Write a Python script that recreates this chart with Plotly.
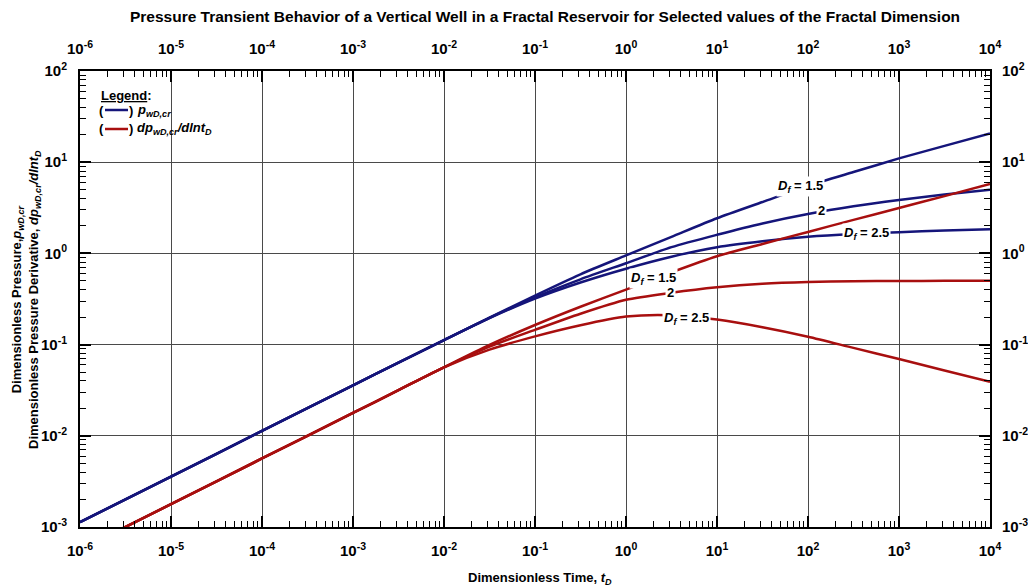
import math
import plotly.graph_objects as go

# Dimensionless time grid
t_D = [1e-6, 1e-5, 1e-4, 1e-3, 3.16e-3, 1e-2, 0.0316, 0.1, 0.316, 1, 3.16,
       10, 31.6, 100, 316, 1000, 3162, 10000]

# Dimensionless pressure p_wD,cr for each fractal dimension
p_Df15 = [1.13e-3, 3.57e-3, 1.13e-2, 3.57e-2, 0.0635, 0.112, 0.197, 0.345, 0.59, 0.95, 1.52,
          2.43, 3.66, 5.5, 7.8, 11.0, 15.1, 20.7]
p_Df20 = [1.13e-3, 3.57e-3, 1.13e-2, 3.57e-2, 0.0635, 0.112, 0.196, 0.33, 0.52, 0.78, 1.17,
          1.6, 2.13, 2.7, 3.28, 3.85, 4.43, 5.0]
p_Df25 = [1.13e-3, 3.57e-3, 1.13e-2, 3.57e-2, 0.0635, 0.112, 0.195, 0.32, 0.48, 0.68, 0.92,
          1.17, 1.36, 1.52, 1.63, 1.71, 1.78, 1.84]

# Pressure derivative dp_wD,cr/dln t_D for each fractal dimension
dp_Df15 = [5.64e-4, 1.78e-3, 5.64e-3, 1.78e-2, 0.0317, 0.0564, 0.099, 0.164, 0.26, 0.40, 0.62,
           0.93, 1.27, 1.72, 2.33, 3.15, 4.25, 5.77]
dp_Df20 = [5.64e-4, 1.78e-3, 5.64e-3, 1.78e-2, 0.0317, 0.0564, 0.095, 0.145, 0.218, 0.31, 0.37,
           0.425, 0.465, 0.486, 0.495, 0.499, 0.5, 0.5]
dp_Df25 = [5.64e-4, 1.78e-3, 5.64e-3, 1.78e-2, 0.0317, 0.0564, 0.088, 0.123, 0.163, 0.203, 0.21,
           0.188, 0.155, 0.122, 0.092, 0.0695, 0.052, 0.039]

# Curve labels: (text, t_D, value)
curve_labels = [
    ("<b><i>D<sub>f</sub></i> = 1.5</b>", 81.7, 5.48),
    ("<b>2</b>", 141, 2.99),
    ("<b><i>D<sub>f</sub></i> = 2.5</b>", 440, 1.67),
    ("<b><i>D<sub>f</sub></i> = 1.5</b>", 2.03, 0.533),
    ("<b>2</b>", 3.05, 0.371),
    ("<b><i>D<sub>f</sub></i> = 2.5</b>", 4.64, 0.194),
]

# Axis ticks
x_tickvals = [10.0 ** k for k in range(-6, 5)]
x_ticktext = ["10<sup>%d</sup>" % k for k in range(-6, 5)]
y_tickvals = [10.0 ** k for k in range(-3, 3)]
y_ticktext = ["10<sup>%d</sup>" % k for k in range(-3, 3)]

BLUE = "#15157a"
RED = "#a80f0f"
FONT = "Liberation Sans"

fig = go.Figure()

for series in (p_Df15, p_Df20, p_Df25):
    fig.add_trace(go.Scatter(x=t_D, y=series, mode="lines", showlegend=False,
                             line=dict(color=BLUE, width=2.5, shape="spline", smoothing=0.7),
                             hoverinfo="skip"))
for series in (dp_Df15, dp_Df20, dp_Df25):
    fig.add_trace(go.Scatter(x=t_D, y=series, mode="lines", showlegend=False,
                             line=dict(color=RED, width=2.5, shape="spline", smoothing=0.7),
                             hoverinfo="skip"))

# Invisible trace so the mirrored top/right axes get drawn
fig.add_trace(go.Scatter(x=[1e-6, 1e4], y=[1e-3, 1e2], xaxis="x2", yaxis="y2",
                         mode="markers", marker=dict(opacity=0), showlegend=False,
                         hoverinfo="skip"))


def minor_vals(lo, hi):
    vals = []
    for k in range(lo, hi):
        for m in range(2, 10):
            vals.append(m * 10.0 ** k)
    return vals


def log_axis(tickvals, ticktext, rng, minor, grid, standoff):
    return dict(
        type="log", range=rng, showline=True, linecolor="black", linewidth=2,
        automargin=False,
        ticks="inside", ticklen=11, tickwidth=1.5, tickcolor="black",
        tickvals=tickvals, ticktext=ticktext, ticklabelstandoff=standoff,
        tickfont=dict(family=FONT, size=15, color="black", weight="bold"),
        showgrid=grid, gridcolor="#4a4a4a", gridwidth=1, zeroline=False,
        minor=dict(ticks="inside", ticklen=6, tickwidth=1.2, tickcolor="black",
                   tickvals=minor, showgrid=False),
    )


xmin = minor_vals(-6, 4)
ymin = minor_vals(-3, 2)

fig.update_layout(
    width=1028, height=588,
    margin=dict(l=80, r=38, t=71, b=61),
    paper_bgcolor="white", plot_bgcolor="white",
    xaxis=log_axis(x_tickvals, x_ticktext, [-6, 4], xmin, True, 9),
    yaxis=log_axis(y_tickvals, y_ticktext, [-3, 2], ymin, True, 8),
    xaxis2=dict(log_axis(x_tickvals, x_ticktext, [-6, 4], xmin, False, 9),
                overlaying="x", side="top", anchor="y2"),
    yaxis2=dict(log_axis(y_tickvals, y_ticktext, [-3, 2], ymin, False, 7),
                overlaying="y", side="right", anchor="x2"),
    title=dict(text="<b>Pressure Transient Behavior of a Vertical Well in a Fractal Reservoir "
                    "for Selected values of the Fractal Dimension</b>",
               x=0.511, xref="paper", xanchor="center", y=1 - 17 / 588, yanchor="middle",
               font=dict(family=FONT, size=15.5, color="black")),
)


def px_x(px):
    return (px - 80) / 910


def px_y(py):
    return (527 - py) / 456


annotations = []
for text, tx, py in curve_labels:
    annotations.append(dict(x=math.log10(tx), y=math.log10(py), xref="x", yref="y",
                            text=text, showarrow=False, bgcolor="white", borderpad=1,
                            font=dict(family=FONT, size=13, color="black")))

# Axis titles
annotations.append(dict(x=px_x(540), y=px_y(578), xref="paper", yref="paper",
                        text="<b>Dimensionless Time, <i>t<sub>D</sub></i></b>",
                        showarrow=False, xanchor="center", yanchor="middle",
                        font=dict(family=FONT, size=13, color="black")))
annotations.append(dict(x=px_x(26), y=px_y(300), xref="paper", yref="paper",
                        text="<b>Dimensionless Pressure,<i>p<sub>wD,cr</sub></i><br>"
                             "Dimensionless Pressure Derivative, <i>dp<sub>wD,cr</sub>/dlnt<sub>D</sub></i></b>",
                        textangle=-90, showarrow=False, xanchor="center", yanchor="middle",
                        font=dict(family=FONT, size=13, color="black")))

# Legend block
annotations.append(dict(x=px_x(99), y=px_y(95), xref="paper", yref="paper",
                        text="<b><u>Legend</u>:</b>", showarrow=False,
                        xanchor="left", yanchor="middle",
                        font=dict(family=FONT, size=13, color="black")))
legend_rows = [("<b><i>p<sub>wD,cr</sub></i></b>", BLUE, 110),
               ("<b><i>dp<sub>wD,cr</sub>/dlnt<sub>D</sub></i></b>", RED, 129)]
shapes = []
for text, col, py in legend_rows:
    annotations.append(dict(x=px_x(97), y=px_y(py), xref="paper", yref="paper",
                            text="<b>(</b>", showarrow=False, xanchor="left", yanchor="middle",
                            font=dict(family=FONT, size=13, color="black")))
    annotations.append(dict(x=px_x(127), y=px_y(py), xref="paper", yref="paper",
                            text="<b>)</b>", showarrow=False, xanchor="left", yanchor="middle",
                            font=dict(family=FONT, size=13, color="black")))
    annotations.append(dict(x=px_x(135), y=px_y(py), xref="paper", yref="paper",
                            text=text, showarrow=False, xanchor="left", yanchor="middle",
                            font=dict(family=FONT, size=13, color="black")))
    shapes.append(dict(type="line", xref="paper", yref="paper",
                       x0=px_x(105), x1=px_x(128), y0=px_y(py), y1=px_y(py),
                       line=dict(color=col, width=2.5)))

fig.update_layout(annotations=annotations, shapes=shapes)

fig.write_html("out.html")
